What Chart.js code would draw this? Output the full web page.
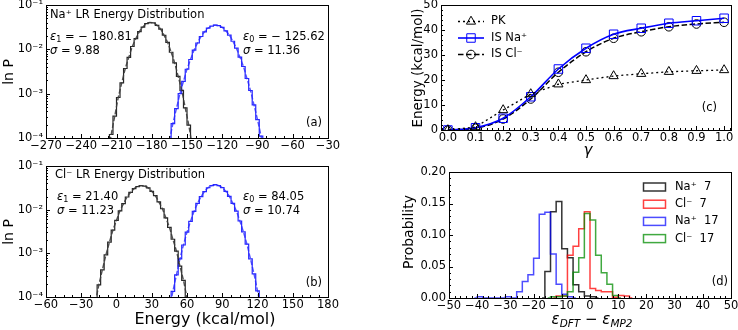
<!DOCTYPE html>
<html lang="en">
<head>
<meta charset="UTF-8">
<title>LR energy distributions</title>
<script src="https://cdn.jsdelivr.net/npm/chart.js@4.4.1/dist/chart.umd.min.js"></script>
<style>
  body{margin:0; background:#fff;}
  #wrap{position:relative; width:738px; height:330px;}
  #wrap canvas{position:absolute; left:0; top:0;}
</style>
</head>
<body>
<div id="wrap">
  <canvas id="chartA" width="738" height="330"></canvas>
  <canvas id="chartB" width="738" height="330"></canvas>
  <canvas id="chartC" width="738" height="330"></canvas>
  <canvas id="chartD" width="738" height="330"></canvas>
</div>
<script>
// (a) Na+ LR energy distribution: bin centres (kcal/mol) and P
const naLrE1 = [-217.5,-214.5,-211.5,-208.5,-205.5,-202.5,-199.5,-196.5,-193.5,-190.5,-187.5,-184.5,-181.5,-178.5,-175.5,-172.5,-169.5,-166.5,-163.5,-160.5,-157.5,-154.5,-151.5,-148.5,-145.5];
const naLrP1 = [4.0e-5,1.2e-4,3.1e-4,8.2e-4,1.75e-3,3.7e-3,6.6e-3,1.16e-2,1.75e-2,2.52e-2,3.18e-2,3.79e-2,4.02e-2,3.95e-2,3.47e-2,2.86e-2,2.08e-2,1.43e-2,8.6e-3,4.95e-3,2.45e-3,1.19e-3,4.8e-4,1.95e-4,6.5e-5];
const naLrE0 = [-165,-162,-159,-156,-153,-150,-147,-144,-141,-138,-135,-132,-129,-126,-123,-120,-117,-114,-111,-108,-105,-102,-99,-96,-93,-90,-87,-84];
const naLrP0 = [8.6e-5,2.1e-4,4.6e-4,1.0e-3,1.9e-3,3.55e-3,5.9e-3,9.6e-3,1.39e-2,1.95e-2,2.48e-2,3.02e-2,3.35e-2,3.52e-2,3.41e-2,3.12e-2,2.61e-2,2.09e-2,1.52e-2,1.06e-2,6.7e-3,4.1e-3,2.2e-3,1.18e-3,5.6e-4,2.6e-4,1.1e-4,4.2e-5];

// (b) Cl- LR energy distribution
const clLrE1 = [-18,-15,-12,-9,-6,-3,0,3,6,9,12,15,18,21,24,27,30,33,36,39,42,45,48,51,54,57,60,63];
const clLrP1 = [7.5e-5,1.9e-4,4.2e-4,9.2e-4,1.8e-3,3.4e-3,5.7e-3,9.4e-3,1.37e-2,1.95e-2,2.48e-2,3.03e-2,3.37e-2,3.56e-2,3.45e-2,3.16e-2,2.63e-2,2.1e-2,1.51e-2,1.05e-2,6.5e-3,3.95e-3,2.1e-3,1.12e-3,5.1e-4,2.4e-4,9.4e-5,3.5e-5];
const clLrE0 = [45,48,51,54,57,60,63,66,69,72,75,78,81,84,87,90,93,96,99,102,105,108,111,114,117,120,123];
const clLrP0 = [5.0e-5,1.35e-4,3.2e-4,7.5e-4,1.55e-3,3.05e-3,5.4e-3,9.1e-3,1.39e-2,1.99e-2,2.6e-2,3.18e-2,3.56e-2,3.73e-2,3.57e-2,3.2e-2,2.62e-2,2.01e-2,1.4e-2,9.3e-3,5.5e-3,3.1e-3,1.62e-3,7.5e-4,3.4e-4,1.38e-4,5.2e-5];

const logTicks = [1e-4, 1e-3, 1e-2, 1e-1];
const logLabels = ['10⁻⁴', '10⁻³', '10⁻²', '10⁻¹'];
const aXTicks = [-270, -240, -210, -180, -150, -120, -90, -60, -30];
const bXTicks = [-60, -30, 0, 30, 60, 90, 120, 150, 180];

// (c) charging free energy vs gamma
const gammaVals = [0, 0.1, 0.2, 0.3, 0.4, 0.5, 0.6, 0.7, 0.8, 0.9, 1.0];
const gammaLabels = ['0.0','0.1','0.2','0.3','0.4','0.5','0.6','0.7','0.8','0.9','1.0'];
const pkVals   = [0.0, 1.2, 8.0, 14.4, 18.3, 20.0, 21.6, 22.5, 23.3, 23.7, 24.0];
const isNaVals = [0.0, 0.9, 4.7, 13.3, 24.4, 32.7, 38.3, 40.7, 42.7, 43.7, 44.7];
const isClVals = [0.0, 0.7, 4.4, 12.4, 23.1, 31.3, 36.7, 39.3, 41.3, 42.4, 43.1];
const cYTicks = [0, 10, 20, 30, 40, 50];

// (d) DFT - MP2 error histograms, bin centres (width 2)
const dBins = [-41,-39,-37,-35,-33,-31,-29,-27,-25,-23,-21,-19,-17,-15,-13,-11,-9,-7,-5,-3,-1,1,3,5,7,9,11,13,15];
const na7  = [null,null,null,null,null,null,null,null,null,null,null,null,0,0.042,0.137,0.153,0.078,0.064,0.021,0.010,0.003,0.002,0,null,null,null,null,null,null];
const cl7  = [null,null,null,null,null,null,null,null,null,null,null,null,null,null,0,0.003,0.003,0.068,0.082,0.110,0.137,0.015,0.012,0.010,0.010,0.001,0.004,0.003,0];
const na17 = [0,0.002,0,0,0,0,0.002,0,0.010,0.026,0.037,0.063,0.133,0.136,0.070,0.022,0.006,0.002,0,null,null,null,null,null,null,null,null,null,null];
const cl17 = [null,null,null,null,null,null,null,null,null,null,null,null,null,0,0.002,0.002,0.003,0.010,0.041,0.064,0.134,0.124,0.068,0.040,0.022,0.004,0,null,null];
const dXTicks = [-50, -40, -30, -20, -10, 0, 10, 20, 30, 40, 50];
const dYTicks = [0, 0.05, 0.10, 0.15, 0.20];
const dYLabels = ['0.00', '0.05', '0.10', '0.15', '0.20'];

Chart.defaults.font.family = '"DejaVu Sans", sans-serif';
Chart.defaults.color = '#000';

const FONT = '"DejaVu Sans"';
const fmt = v => String(v).replace('-', '\u2212');
const AX_W = 42, AX_H = 22;   // room kept for tick labels

// chart boxes [left, top, right, bottom] in page pixels
function pad(b) { return {left: b[0] - AX_W, top: b[1], right: 738 - b[2], bottom: 330 - b[3] - AX_H}; }

function axis(type, min, max, ticks, labels, isY) {
  return {
    type: type, min: min, max: max,
    grid: {display: false, drawTicks: false},
    border: {display: false},
    ticks: {
      font: {size: 11.5}, color: '#000', padding: isY ? 3 : 1.5,
      autoSkip: false, maxRotation: 0, minRotation: 0,
      callback: (v, i) => labels[i]
    },
    afterBuildTicks: s => { s.ticks = ticks.map(v => ({value: v})); },
    afterFit: s => {
      if (isY) s.width = AX_W; else s.height = AX_H;
      s.paddingLeft = s.paddingRight = s.paddingTop = s.paddingBottom = 0;
    }
  };
}

function minorVals(min, max, step, majors) {
  const out = [];
  for (let k = Math.ceil(min / step - 1e-9); k * step <= max + 1e-9; k++) {
    const v = k * step;
    if (!majors.some(m => Math.abs(m - v) < step * 1e-3)) out.push(v);
  }
  return out;
}

// frame + inward ticks like matplotlib
function frameTicks(cfg) {
  return {
    id: 'frameTicks',
    afterDatasetsDraw(chart) {
      const {ctx, chartArea: a} = chart;
      const sx = chart.scales.x, sy = chart.scales.y;
      ctx.save();
      ctx.strokeStyle = '#000';
      ctx.lineWidth = 1;
      ctx.beginPath();
      const xt = (v, len) => { const p = Math.round(sx.getPixelForValue(v)) + 0.5; ctx.moveTo(p, a.bottom); ctx.lineTo(p, a.bottom - len); };
      const yt = (v, len) => { const p = Math.round(sy.getPixelForValue(v)) + 0.5; ctx.moveTo(a.left, p); ctx.lineTo(a.left + len, p); };
      const majX = sx.ticks.map(t => t.value), majY = sy.ticks.map(t => t.value);
      majX.forEach(v => xt(v, 4));
      majY.forEach(v => yt(v, 4));
      minorVals(sx.min, sx.max, cfg.xMinor, majX).forEach(v => xt(v, 2));
      if (cfg.yLog) {
        majY.slice(0, -1).forEach(d => { for (let k = 2; k < 10; k++) yt(d * k, 2); });
      } else {
        minorVals(sy.min, sy.max, cfg.yMinor, majY).forEach(v => yt(v, 2));
      }
      ctx.stroke();
      ctx.strokeRect(a.left + 0.5, a.top + 0.5, a.right - a.left, a.bottom - a.top);
      ctx.restore();
    }
  };
}

// text with italic / subscript pieces: [text, flags]
function rich(ctx, parts, x, y, size, align, rot) {
  const f = p => ((p[1] || '').includes('i') ? 'italic ' : '') + ((p[1] || '').includes('s') ? size * 0.7 : size) + 'px ' + FONT;
  ctx.save();
  ctx.translate(x, y);
  if (rot) ctx.rotate(rot);
  ctx.textBaseline = 'middle';
  ctx.textAlign = 'left';
  ctx.fillStyle = '#000';
  let w = 0;
  parts.forEach(p => { ctx.font = f(p); w += ctx.measureText(p[0]).width; });
  let cx = align === 'center' ? -w / 2 : align === 'right' ? -w : 0;
  parts.forEach(p => {
    ctx.font = f(p);
    ctx.fillText(p[0], cx, (p[1] || '').includes('s') ? size * 0.28 : 0);
    cx += ctx.measureText(p[0]).width;
  });
  ctx.restore();
}

function notes(items) {
  return {
    id: 'notes',
    afterDraw(chart) {
      items.forEach(n => rich(chart.ctx, n.p, n.x, n.y, n.s || 11.5, n.a || 'left', n.r || 0));
    }
  };
}

function drawMarker(ctx, style, x, y, r) {
  ctx.beginPath();
  if (style === 'triangle') {
    ctx.moveTo(x, y - r); ctx.lineTo(x + r * 0.866, y + r * 0.5); ctx.lineTo(x - r * 0.866, y + r * 0.5); ctx.closePath();
  } else if (style === 'rect') {
    const s = r * Math.SQRT1_2; ctx.rect(x - s, y - s, 2 * s, 2 * s);
  } else {
    ctx.arc(x, y, r, 0, Math.PI * 2);
  }
  ctx.stroke();
}

function baseOptions(box, scales) {
  return {
    responsive: false, animation: false, events: [],
    layout: {padding: pad(box), autoPadding: false},
    plugins: {legend: {display: false}, tooltip: {enabled: false}},
    scales: scales
  };
}

const pts = (xs, ys) => xs.map((x, i) => ({x: x, y: ys[i]}));
const histSet = (xs, ys, color) => ({data: pts(xs, ys), stepped: 'middle', borderColor: color, borderWidth: 1.2, pointRadius: 0, fill: false, order: 2});
const fitSet = (xs, ys, color) => ({data: pts(xs, ys), borderColor: color, borderWidth: 1.4, borderDash: [5, 2], cubicInterpolationMode: 'monotone', pointRadius: 0, fill: false, order: 1});

// ---- (a) ----
new Chart(document.getElementById('chartA'), {
  type: 'line',
  data: {datasets: [
    histSet(naLrE1, naLrP1, 'rgba(0,0,0,0.85)'), fitSet(naLrE1, naLrP1, 'rgba(60,60,60,0.9)'),
    histSet(naLrE0, naLrP0, 'rgba(0,0,255,0.85)'), fitSet(naLrE0, naLrP0, 'rgba(40,40,255,0.8)')
  ]},
  options: baseOptions([46, 5, 328, 138], {
    x: axis('linear', -270, -30, aXTicks, aXTicks.map(fmt), false),
    y: axis('logarithmic', 1e-4, 1e-1, logTicks, logLabels, true)
  }),
  plugins: [frameTicks({xMinor: 7.5, yLog: true}), notes([
    {p: [['Na⁺ LR Energy Distribution']], x: 50, y: 15},
    {p: [['ε', 'i'], ['1', 's'], [' = \u2212 180.81']], x: 50, y: 37},
    {p: [['σ', 'i'], [' = 9.88']], x: 50, y: 51},
    {p: [['ε', 'i'], ['0', 's'], [' = \u2212 125.62']], x: 243, y: 37},
    {p: [['σ', 'i'], [' = 11.36']], x: 243, y: 51},
    {p: [['(a)']], x: 322, y: 123, a: 'right'},
    {p: [['ln P']], x: 9, y: 72, s: 14, a: 'center', r: -Math.PI / 2}
  ])]
});

// ---- (b) ----
new Chart(document.getElementById('chartB'), {
  type: 'line',
  data: {datasets: [
    histSet(clLrE1, clLrP1, 'rgba(0,0,0,0.85)'), fitSet(clLrE1, clLrP1, 'rgba(60,60,60,0.9)'),
    histSet(clLrE0, clLrP0, 'rgba(0,0,255,0.85)'), fitSet(clLrE0, clLrP0, 'rgba(40,40,255,0.8)')
  ]},
  options: baseOptions([46, 166, 328, 297], {
    x: axis('linear', -60, 180, bXTicks, bXTicks.map(fmt), false),
    y: axis('logarithmic', 1e-4, 1e-1, logTicks, logLabels, true)
  }),
  plugins: [frameTicks({xMinor: 7.5, yLog: true}), notes([
    {p: [['Cl⁻ LR Energy Distribution']], x: 55, y: 175},
    {p: [['ε', 'i'], ['1', 's'], [' = 21.40']], x: 57, y: 197},
    {p: [['σ', 'i'], [' = 11.23']], x: 57, y: 211},
    {p: [['ε', 'i'], ['0', 's'], [' = 84.05']], x: 243, y: 197},
    {p: [['σ', 'i'], [' = 10.74']], x: 243, y: 211},
    {p: [['(b)']], x: 322, y: 283, a: 'right'},
    {p: [['ln P']], x: 9, y: 232, s: 14, a: 'center', r: -Math.PI / 2},
    {p: [['Energy (kcal/mol)']], x: 205, y: 320, s: 16, a: 'center'}
  ])]
});

// ---- (c) ----
const legendC = {
  id: 'legendC',
  afterDraw(chart) {
    const ctx = chart.ctx;
    chart.data.datasets.forEach((ds, i) => {
      const y = 21.5 + i * 16.5;
      ctx.save();
      ctx.strokeStyle = ds.borderColor;
      ctx.lineWidth = ds.borderWidth;
      ctx.setLineDash(ds.borderDash || []);
      ctx.beginPath(); ctx.moveTo(458, y); ctx.lineTo(484, y); ctx.stroke();
      ctx.setLineDash([]);
      ctx.lineWidth = 1;
      drawMarker(ctx, ds.pointStyle, 471, y, ds.pointRadius);
      ctx.restore();
      rich(ctx, [[ds.label]], 491, y, 11.5, 'left', 0);
    });
  }
};
const lineSet = (label, ys, color, dash, style, r, width, smooth) => ({
  label: label, data: pts(gammaVals, ys), borderColor: color, borderWidth: width, borderDash: dash,
  cubicInterpolationMode: smooth ? 'monotone' : 'default', tension: 0,
  pointStyle: style, pointRadius: r, pointBorderColor: color, pointBorderWidth: 1,
  pointBackgroundColor: 'rgba(0,0,0,0)', fill: false
});
new Chart(document.getElementById('chartC'), {
  type: 'line',
  data: {datasets: [
    lineSet('PK', pkVals, '#000', [2, 3], 'triangle', 5.3, 1.3, false),
    lineSet('IS Na⁺', isNaVals, '#0000ff', [], 'rect', 6, 1.6, true),
    lineSet('IS Cl⁻', isClVals, '#000', [5.5, 2.5], 'circle', 4.3, 1.5, true)
  ]},
  options: baseOptions([441, 5, 731, 130], {
    x: axis('linear', -0.025, 1.025, gammaVals, gammaLabels, false),
    y: axis('linear', 0, 50, cYTicks, cYTicks.map(String), true)
  }),
  plugins: [frameTicks({xMinor: 0.02, yMinor: 2}), legendC, notes([
    {p: [['(c)']], x: 717, y: 108, a: 'right'},
    {p: [['γ', 'i']], x: 588, y: 151, s: 15, a: 'center'},
    {p: [['Energy (kcal/mol)']], x: 418, y: 68, s: 13.5, a: 'center', r: -Math.PI / 2}
  ])]
});

// ---- (d) ----
const legendD = {
  id: 'legendD',
  afterDraw(chart) {
    const ctx = chart.ctx;
    chart.data.datasets.forEach((ds, i) => {
      const y = 187 + i * 17.2;
      ctx.save();
      ctx.strokeStyle = ds.borderColor;
      ctx.lineWidth = ds.borderWidth;
      ctx.strokeRect(643.5, y - 4, 22, 8);
      ctx.restore();
      rich(ctx, [[ds.label]], 675, y, 11.5, 'left', 0);
    });
  }
};
const stepSet = (label, ys, color, order) => ({
  label: label, data: pts(dBins, ys), stepped: 'middle', borderColor: color, borderWidth: 1.5,
  pointRadius: 0, fill: false, spanGaps: false, order: order
});
new Chart(document.getElementById('chartD'), {
  type: 'line',
  data: {datasets: [
    stepSet('Na⁺  7', na7, 'rgba(0,0,0,0.8)', 4),
    stepSet('Cl⁻  7', cl7, 'rgba(255,0,0,0.75)', 3),
    stepSet('Na⁺  17', na17, 'rgba(0,0,255,0.7)', 2),
    stepSet('Cl⁻  17', cl17, 'rgba(0,140,0,0.75)', 1)
  ]},
  options: baseOptions([449, 172, 731, 298], {
    x: axis('linear', -50, 50, dXTicks, dXTicks.map(fmt), false),
    y: axis('linear', 0, 0.2, dYTicks, dYLabels, true)
  }),
  plugins: [frameTicks({xMinor: 2, yMinor: 0.01}), legendD, notes([
    {p: [['(d)']], x: 728, y: 282, a: 'right'},
    {p: [['Probability']], x: 409, y: 232, s: 14, a: 'center', r: -Math.PI / 2},
    {p: [['ε', 'i'], ['DFT', 'is'], [' \u2212 '], ['ε', 'i'], ['MP2', 'is']], x: 592, y: 320, s: 15, a: 'center'}
  ])]
});
</script>
</body>
</html>
